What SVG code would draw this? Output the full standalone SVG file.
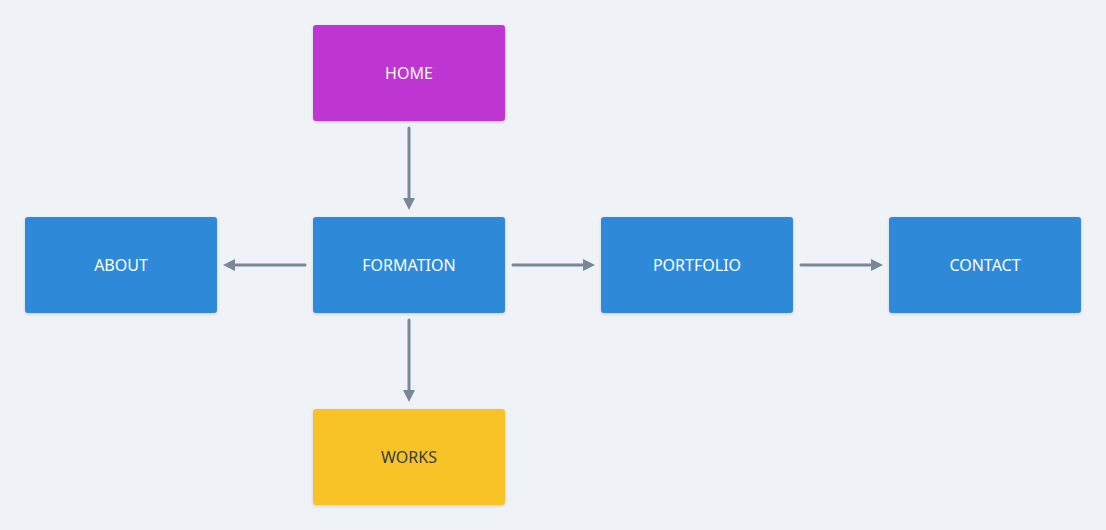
<svg xmlns="http://www.w3.org/2000/svg" width="1106" height="530" viewBox="0 0 1106 530">
<defs>
<style>
.box{stroke:none;filter:url(#sh)}
.lbl{font-family:"Noto Sans","DejaVu Sans",sans-serif;font-size:16px;text-anchor:middle;dominant-baseline:central}
.w{fill:#ffffff}
.d{fill:#333d47}
.c{stroke:#7b8794;stroke-width:3;stroke-linecap:round;fill:none;marker-end:url(#ah)}
</style>
<filter id="sh" x="-10%" y="-10%" width="120%" height="130%">
<feDropShadow dx="0" dy="1" stdDeviation="1.5" flood-color="#000" flood-opacity="0.15"/>
</filter>
<marker id="ah" viewBox="0 0 10 10" refX="5" refY="5" markerWidth="4" markerHeight="4" orient="auto" markerUnits="strokeWidth">
<path d="M0,0 L10,5 L0,10 z" fill="#7b8794"/>
</marker>
</defs>
<rect width="1106" height="530" fill="#eff3f7"/>
<g id="connectors">
<line class="c" x1="409" y1="128" x2="409" y2="204"/>
<line class="c" x1="305" y1="265" x2="229" y2="265"/>
<line class="c" x1="513" y1="265" x2="589" y2="265"/>
<line class="c" x1="801" y1="265" x2="877" y2="265"/>
<line class="c" x1="409" y1="320" x2="409" y2="396"/>
</g>
<g id="home"><rect class="box" x="313" y="25" width="192" height="96" rx="3" fill="#bf34d1"/><text class="lbl w" x="409" y="73">HOME</text></g>
<g id="about"><rect class="box" x="25" y="217" width="192" height="96" rx="3" fill="#2d8ad9"/><text class="lbl w" x="121" y="265">ABOUT</text></g>
<g id="formation"><rect class="box" x="313" y="217" width="192" height="96" rx="3" fill="#2d8ad9"/><text class="lbl w" x="409" y="265">FORMATION</text></g>
<g id="portfolio"><rect class="box" x="601" y="217" width="192" height="96" rx="3" fill="#2d8ad9"/><text class="lbl w" x="697" y="265">PORTFOLIO</text></g>
<g id="contact"><rect class="box" x="889" y="217" width="192" height="96" rx="3" fill="#2d8ad9"/><text class="lbl w" x="985" y="265">CONTACT</text></g>
<g id="works"><rect class="box" x="313" y="409" width="192" height="96" rx="3" fill="#f8c325"/><text class="lbl d" x="409" y="457">WORKS</text></g>
</svg>
